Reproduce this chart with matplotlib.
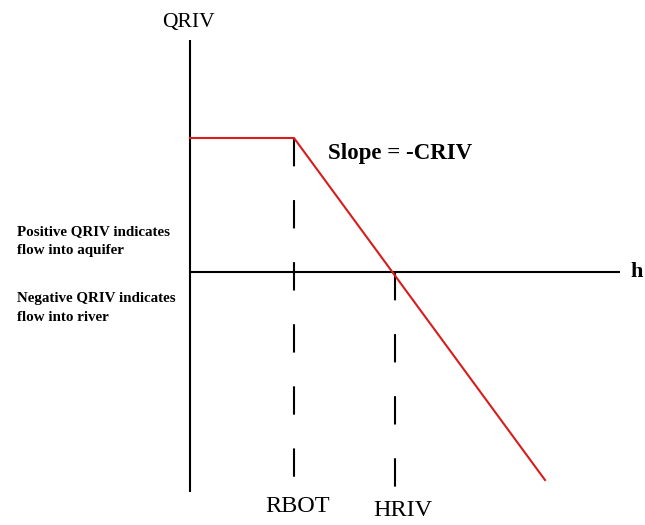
import matplotlib.pyplot as plt

# schematic of river boundary flux vs head (units are arbitrary)
h_curve = [0, 104, 355]
q_curve = [134, 134, -208]
rbot = 104
hriv = 205
axis_h = [0, 430]
axis_q = [232, -220]
rbot_dash = [134, -221]
hriv_dash = [0, -216]

plt.rcParams['font.family'] = ['Liberation Serif', 'DejaVu Serif']

fig = plt.figure(figsize=(6.45, 5.25), dpi=100)
ax = fig.add_axes([0, 0, 1, 1])
ax.set_xlim(-190, 455)
ax.set_ylim(-253, 272)
ax.axis('off')

# axes of the diagram
ax.plot([0, 0], axis_q, color='black', lw=1.5, solid_capstyle='butt')
ax.plot(axis_h, [0, 0], color='black', lw=1.5, solid_capstyle='butt')

# dashed guide lines
ax.plot([rbot, rbot], rbot_dash, color='black', lw=1.5,
        linestyle=(0, (13.6, 16.2)))
ax.plot([hriv, hriv], hriv_dash, color='black', lw=1.5,
        linestyle=(0, (13.6, 16.2)))

# QRIV relation
ax.plot(h_curve, q_curve, color='#d81c1c', lw=1.5)

ax.text(-2, 250, 'QRIV', fontsize=15.5, ha='center', va='center')
ax.text(440, 0, 'h', fontsize=16, fontweight='bold', ha='left', va='center')
ax.text(138, 119, 'Slope = -CRIV', fontsize=16.5, fontweight='bold',
        ha='left', va='center')
ax.text(rbot + 4, -235, 'RBOT', fontsize=17.5, ha='center', va='center')
ax.text(hriv + 8, -238, 'HRIV', fontsize=17.5, ha='center', va='center')

ax.text(-173, 31, 'Positive QRIV indicates\nflow into aquifer', fontsize=10.8,
        fontweight='bold', ha='left', va='center', linespacing=1.55)
ax.text(-173, -36, 'Negative QRIV indicates\nflow into river', fontsize=10.8,
        fontweight='bold', ha='left', va='center', linespacing=1.55)

fig.savefig('out.png', dpi=100, facecolor='white')
